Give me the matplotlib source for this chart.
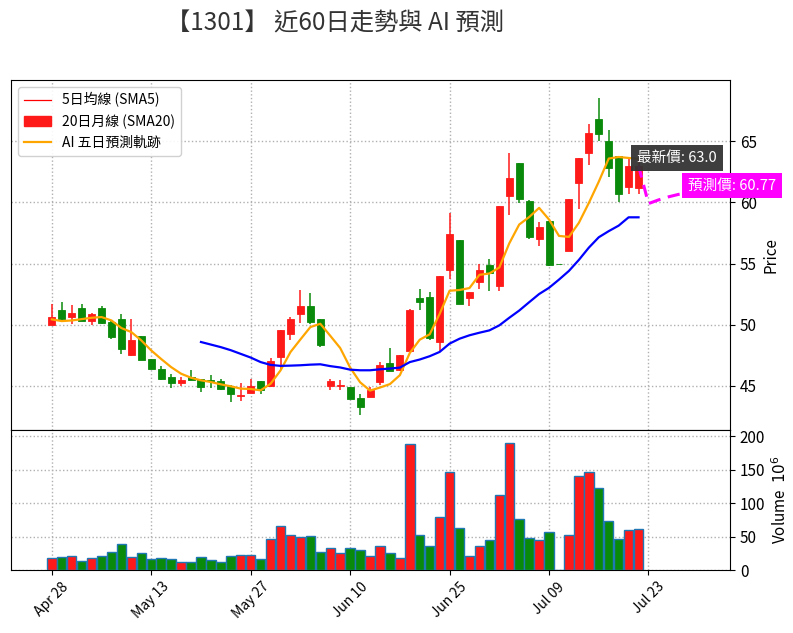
"""
1301 近60日 K線 + 均線 + AI 預測圖
"""
import numpy as np
import matplotlib
matplotlib.use("Agg")
import matplotlib.pyplot as plt
from matplotlib.lines import Line2D
from matplotlib.patches import Patch

plt.rcParams['font.family'] = ['Noto Sans CJK TC', 'DejaVu Sans']

# 60 個交易日
opens = [50.0, 51.22, 50.63, 51.33, 50.33, 51.33, 50.22, 50.49, 47.52, 49.05,
         47.17, 46.41, 45.76, 45.24, 45.76, 45.54, 45.51, 45.4, 45.02, 44.18,
         44.42, 45.37, 44.97, 47.36, 49.27, 50.9, 51.5, 50.49, 44.99, 45.0,
         44.91, 44.01, 44.1, 45.32, 46.87, 46.3, 47.86, 52.19, 52.3, 48.6,
         54.46, 56.89, 52.19, 53.46, 54.89, 53.14, 60.54, 63.19, 60.08, 56.97,
         58.47, 54.97, 56.05, 61.56, 64.06, 66.8, 65.0, 63.79, 61.29, 61.2]
highs = [51.7, 51.88, 51.58, 51.71, 51.0, 51.5, 50.3, 50.84, 50.49, 49.1,
         47.2, 46.65, 45.95, 45.73, 46.3, 45.6, 45.86, 45.54, 45.05, 45.24,
         45.54, 45.4, 47.28, 49.55, 50.63, 52.86, 52.59, 50.5, 45.59, 45.5,
         44.95, 44.37, 44.9, 46.95, 48.1, 47.55, 51.3, 52.92, 52.65, 54.0,
         59.14, 56.9, 52.7, 54.95, 55.35, 59.68, 64.0, 63.24, 60.2, 58.4,
         58.5, 54.97, 60.27, 63.66, 66.4, 68.55, 65.91, 63.8, 63.7, 63.6]
lows = [49.95, 50.4, 50.08, 50.3, 50.0, 50.1, 48.86, 47.63, 47.47, 47.09,
        46.35, 45.46, 44.86, 45.02, 45.46, 44.53, 44.86, 44.7, 43.69, 43.74,
        44.4, 44.37, 44.95, 46.33, 48.72, 50.14, 50.08, 48.18, 44.64, 44.64,
        43.9, 42.65, 44.1, 45.05, 46.2, 46.2, 47.86, 51.22, 48.78, 47.8,
        53.73, 51.7, 51.57, 52.92, 52.78, 52.78, 59.0, 59.95, 56.98, 56.43,
        54.78, 54.95, 56.05, 59.49, 63.04, 65.05, 62.04, 60.0, 60.67, 60.7]
closes = [50.6, 50.46, 51.0, 50.33, 50.84, 50.14, 48.99, 48.01, 48.78, 47.14,
          46.38, 45.56, 45.24, 45.46, 45.46, 44.91, 45.37, 44.75, 44.37, 44.29,
          45.02, 44.64, 47.0, 49.54, 50.44, 51.5, 50.22, 48.37, 45.37, 45.1,
          43.93, 43.28, 44.64, 46.73, 46.22, 47.5, 51.24, 51.84, 48.95, 54.0,
          57.38, 51.7, 52.7, 54.46, 54.22, 59.68, 62.03, 60.27, 57.19, 57.97,
          54.92, 54.95, 60.27, 63.66, 65.67, 65.59, 62.82, 60.67, 63.01, 63.0]
volumes = [17.4, 18.9, 20.4, 13.4, 17.4, 20.4, 26.9, 38.3, 18.9, 24.9,
           15.9, 17.4, 15.9, 11.4, 11.4, 18.9, 14.4, 11.4, 20.4, 21.9,
           21.9, 15.9, 45.8, 65.7, 52.2, 48.8, 50.7, 26.9, 32.3, 24.9,
           32.3, 29.4, 20.4, 35.3, 24.9, 17.4, 187.6, 52.2, 35.3, 78.6,
           145.8, 62.2, 20.4, 35.3, 44.3, 111.4, 189.0, 75.6, 47.3, 44.3,
           56.2, 0.0, 51.7, 139.8, 145.8, 121.9, 72.6, 45.8, 59.2, 60.7]

# 均線 (圖上讀值)
sma5 = [50.44, 50.3, 50.35, 50.46, 50.57, 50.63, 50.35, 49.73, 49.4, 48.72,
        47.9, 47.2, 46.54, 46.0, 45.67, 45.46, 45.32, 45.13, 44.97, 44.78,
        44.75, 44.64, 45.18, 46.27, 47.77, 48.8, 49.81, 50.08, 49.1, 48.1,
        46.5, 45.3, 44.62, 44.87, 45.15, 45.88, 47.7, 48.78, 49.22, 50.89,
        52.78, 52.84, 53.0, 54.08, 54.19, 54.68, 56.65, 58.19, 58.8, 59.55,
        58.6, 57.26, 57.18, 58.33, 59.95, 61.69, 63.58, 63.71, 63.63, 63.55]
sma20 = [np.nan] * 15 + [
    48.59, 48.38, 48.17, 47.92, 47.62,
    47.32, 46.95, 46.72, 46.64, 46.66, 46.69, 46.74, 46.77, 46.62, 46.51,
    46.33, 46.28, 46.28, 46.36, 46.42, 46.5, 46.95, 47.16, 47.43, 47.78,
    48.46, 48.86, 49.14, 49.35, 49.54, 49.95, 50.57, 51.16, 51.84, 52.51,
    53.02, 53.69, 54.4, 55.3, 56.3, 57.15, 57.65, 58.1, 58.78, 58.78]

# AI 五日預測
pred_values = [59.9, 60.2, 60.45, 60.65, 60.77]
last_price = 63.0

tick_labels = ['Apr 28', 'May 13', 'May 27', 'Jun 10', 'Jun 25', 'Jul 09', 'Jul 23']
tick_pos = [0, 10, 20, 30, 40, 50, 60]

UP = '#ff1a1a'
DOWN = '#0a8a0a'


def main():
    n = len(closes)
    x = np.arange(n)
    o = np.array(opens)
    c = np.array(closes)
    up = c > o
    colors = [UP if u else DOWN for u in up]

    fig = plt.figure(figsize=(7.93, 6.33), dpi=100)
    ax = fig.add_axes([0.0139, 0.3207, 0.9067, 0.5529])
    axv = fig.add_axes([0.0139, 0.0995, 0.9067, 0.2212], sharex=ax)

    # K 線
    ax.vlines(x, lows, highs, colors=colors, linewidth=1.1, zorder=2)
    body_low = np.minimum(o, c)
    body_h = np.maximum(np.abs(c - o), 0.04)
    ax.bar(x, body_h, bottom=body_low, width=0.7, color=colors,
           edgecolor=colors, linewidth=0.6, zorder=3)

    # 均線
    ax.plot(x, sma5, color='orange', linewidth=1.6, zorder=4)
    ax.plot(x, sma20, color='blue', linewidth=1.6, zorder=4)

    # 預測軌跡
    px = np.arange(n - 1, n + len(pred_values))
    py = [last_price] + pred_values
    ax.plot(px, py, color='magenta', linestyle='--', linewidth=2.2,
            dashes=(4, 2.5), zorder=5)

    ax.text(58.85, 63.6, f'最新價: {last_price}', color='white', fontsize=10.5,
            ha='left', va='center', zorder=6,
            bbox=dict(boxstyle='square,pad=0.4', facecolor='#333333',
                      edgecolor='none', alpha=0.95))
    ax.text(63.95, 61.37, f'預測價: {pred_values[-1]}', color='white', fontsize=10.5,
            ha='left', va='center', zorder=6, clip_on=False,
            bbox=dict(boxstyle='square,pad=0.4', facecolor='magenta',
                      edgecolor='none'))

    ax.set_xlim(-4.1, 68.2)
    ax.set_ylim(41.4, 70.0)
    ax.set_yticks([45, 50, 55, 60, 65])
    ax.yaxis.tick_right()
    ax.yaxis.set_label_position('right')
    ax.set_ylabel('Price', fontsize=11)
    ax.tick_params(axis='y', labelsize=11)
    ax.tick_params(axis='x', bottom=False, labelbottom=False)
    ax.grid(True, linestyle=':', color='#b0b0b0', linewidth=1)
    ax.set_axisbelow(True)

    legend_elements = [
        Line2D([0], [0], color='red', linewidth=0.9, label='5日均線 (SMA5)'),
        Patch(facecolor=UP, edgecolor=UP, label='20日月線 (SMA20)'),
        Line2D([0], [0], color='orange', linewidth=1.6, label='AI 五日預測軌跡'),
    ]
    ax.legend(handles=legend_elements, loc='upper left', fontsize=10,
              framealpha=0.9)

    # 成交量
    axv.bar(x, volumes, width=0.95, color=colors, edgecolor='#1f77b4',
            linewidth=1.0, zorder=3)
    axv.set_ylim(0, 209)
    axv.set_yticks([0, 50, 100, 150, 200])
    axv.yaxis.tick_right()
    axv.yaxis.set_label_position('right')
    axv.set_ylabel('Volume  $10^{6}$', fontsize=11)
    axv.tick_params(axis='y', labelsize=11)
    axv.set_xticks(tick_pos)
    axv.set_xticklabels(tick_labels, rotation=45, fontsize=10)
    axv.grid(True, linestyle=':', color='#b0b0b0', linewidth=1)
    axv.set_axisbelow(True)

    fig.text(0.4225, 0.963, '【1301】 近60日走勢與 AI 預測', fontsize=17.5,
             color='#333333', ha='center', va='center')

    fig.savefig('out.png', dpi=100)
    plt.close(fig)


if __name__ == "__main__":
    main()
